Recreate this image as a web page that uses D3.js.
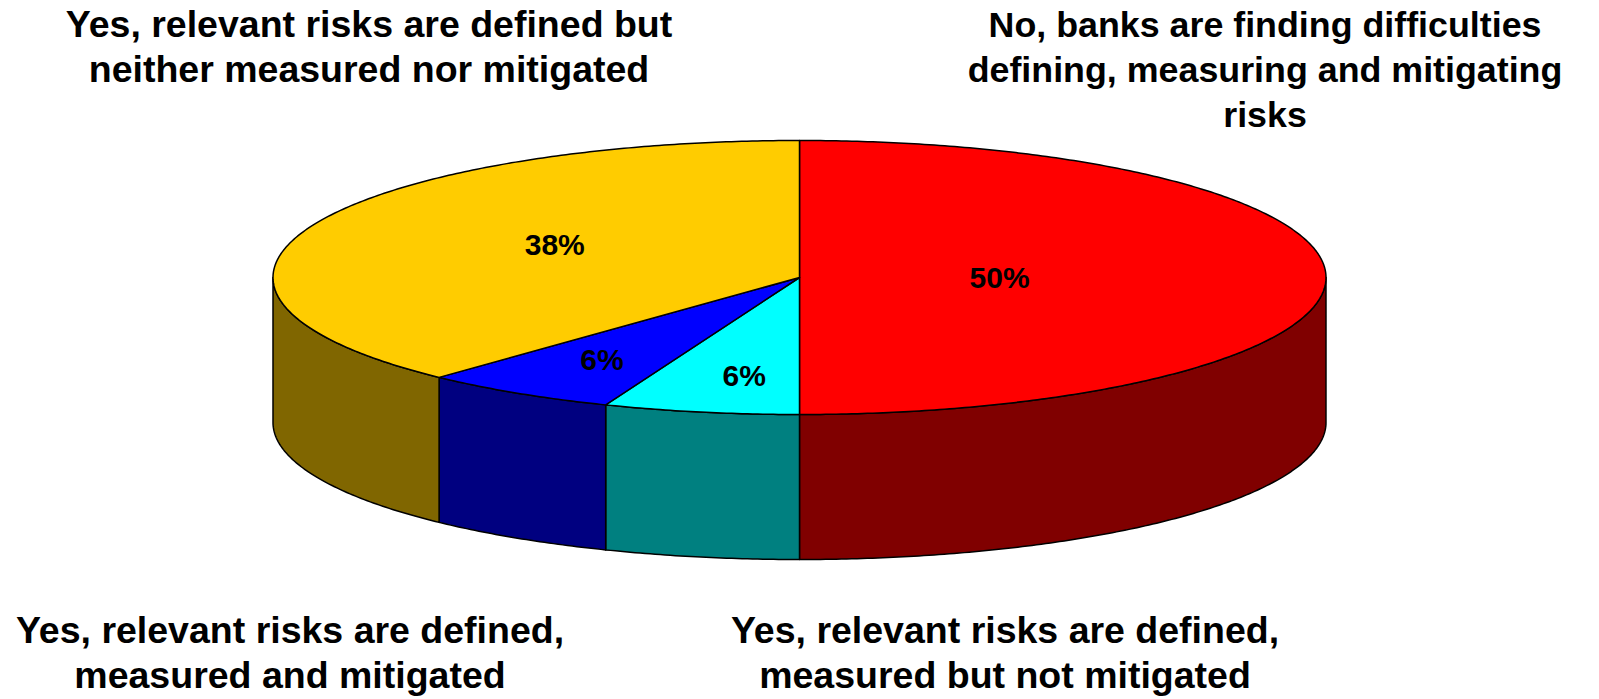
<!DOCTYPE html>
<html>
<head>
<meta charset="utf-8">
<script src="https://cdn.jsdelivr.net/npm/d3@7"></script>
<style>
  body { margin: 0; background: #fff; }
  text { font-family: "Liberation Sans", Arial, sans-serif; font-weight: bold; fill: #000; }
</style>
</head>
<body>
<script>
// dados
var categorias = [
  ["No, banks are finding difficulties", "defining, measuring and mitigating", "risks"],
  ["Yes, relevant risks are defined,", "measured but not mitigated"],
  ["Yes, relevant risks are defined,", "measured and mitigated"],
  ["Yes, relevant risks are defined but", "neither measured nor mitigated"]
];
var valores = [50, 6, 6, 38];
var rotulos = ["50%", "6%", "6%", "38%"];

// estilo
var corTopo = ["#ff0000", "#00ffff", "#0000ff", "#ffcc00"];
var corLado = ["#800000", "#008080", "#000080", "#806600"];
var posRotulo = [[0.38, 0], [0.56, 0.73], [0.70, 0.71], [0.50, 0.65]];
var posCategoria = [
  { x: 1265, y: 37, t: 35.8 },
  { x: 1005, y: 643, t: 37.5 },
  { x: 290, y: 643, t: 37.5 },
  { x: 369, y: 37, t: 37.5 }
];

const largura = 1599;
const altura = 699;
const cx = 799.5, cy = 277.5, rx = 526.5, ry = 137, prof = 145;

var svg = d3.select("body")
            .append("svg")
            .attr("width", largura)
            .attr("height", altura);

var fatias = d3.pie()
               .sort(null)
               .value(function(d) { return d; })(valores);

function ponto(a, dy) {
  return [cx + rx * Math.sin(a), cy - ry * Math.cos(a) + (dy || 0)];
}

function arco(a0, a1, dy) {
  var n = Math.max(2, Math.ceil((a1 - a0) / 0.01));
  return d3.range(n + 1).map(function(i) { return ponto(a0 + (a1 - a0) * i / n, dy); });
}

var linha = d3.line();

// lados (apenas a metade da frente)
svg.append("g")
   .selectAll("path")
   .data(fatias)
   .enter()
   .append("path")
   .attr("d", function(d) {
     var a0 = Math.max(d.startAngle, Math.PI / 2);
     var a1 = Math.min(d.endAngle, 3 * Math.PI / 2);
     if (a0 >= a1) return null;
     var pts = arco(a0, a1, 0).concat(arco(a0, a1, prof).reverse());
     return linha(pts) + "Z";
   })
   .attr("fill", function(d, i) { return corLado[i]; })
   .attr("stroke", "#000")
   .attr("stroke-width", 1.5)
   .attr("stroke-linejoin", "round");

// topo
svg.append("g")
   .selectAll("path")
   .data(fatias)
   .enter()
   .append("path")
   .attr("d", function(d) {
     var pts = [[cx, cy]].concat(arco(d.startAngle, d.endAngle, 0));
     return linha(pts) + "Z";
   })
   .attr("fill", function(d, i) { return corTopo[i]; })
   .attr("stroke", "#000")
   .attr("stroke-width", 1.5)
   .attr("stroke-linejoin", "round");

// rótulos de percentagem
svg.append("g")
   .selectAll("text")
   .data(fatias)
   .enter()
   .append("text")
   .attr("x", function(d, i) {
     var m = (d.startAngle + d.endAngle) / 2;
     return cx + rx * posRotulo[i][0] * Math.sin(m);
   })
   .attr("y", function(d, i) {
     var m = (d.startAngle + d.endAngle) / 2;
     return cy - ry * posRotulo[i][1] * Math.cos(m);
   })
   .attr("text-anchor", "middle")
   .attr("dominant-baseline", "central")
   .attr("font-size", 30)
   .text(function(d, i) { return rotulos[i]; });

// categorias
var cats = svg.append("g")
              .selectAll("text")
              .data(categorias)
              .enter()
              .append("text")
              .attr("text-anchor", "middle")
              .attr("font-size", function(d, i) { return posCategoria[i].t; })
              .attr("transform", function(d, i) {
                return "translate(" + posCategoria[i].x + ", " + posCategoria[i].y + ")";
              });

cats.selectAll("tspan")
    .data(function(d) { return d; })
    .enter()
    .append("tspan")
    .attr("x", 0)
    .attr("y", function(d, j) { return j * 45; })
    .text(function(d) { return d; });
</script>
</body>
</html>
